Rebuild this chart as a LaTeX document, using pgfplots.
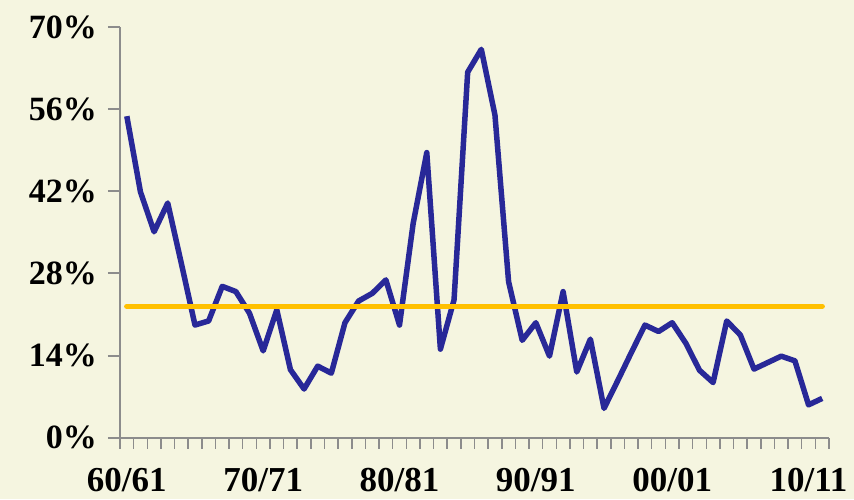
\documentclass[border=0pt]{standalone}
\usepackage{fontspec}
\setmainfont{Liberation Serif}
\usepackage{pgfplots}
\pgfplotsset{compat=1.18}
\definecolor{bg}{RGB}{245,245,224}
\definecolor{axgray}{RGB}{140,140,140}
\definecolor{lineblue}{RGB}{40,40,152}
\definecolor{avgorange}{RGB}{255,192,0}
\begin{document}
\begin{tikzpicture}
\path[fill=bg, use as bounding box] (-120pt,-61.3pt) rectangle (734pt,437.7pt);
\begin{axis}[
  at={(0,0)}, anchor=south west,
  scale only axis, width=709pt, height=410.7pt,
  xmin=-0.5, xmax=51.5, ymin=0, ymax=70,
  axis x line=bottom, axis y line=left,
  axis line style={axgray, line width=2pt, -},
  clip=false,
  tick align=outside,
  xtick={0,10,20,30,40,50},
  xticklabels={60/61,70/71,80/81,90/91,00/01,10/11},
  major x tick style={draw=none},
  minor xtick={-0.5,0.5,...,51.5},
  minor tick length=11pt,
  minor x tick style={axgray, line width=1.5pt},
  ytick={0,14,28,42,56,70},
  yticklabels={0\%,14\%,28\%,42\%,56\%,70\%},
  major tick length=12pt,
  y tick style={axgray, line width=2pt},
  x tick label style={font=\bfseries\fontsize{35}{40}\selectfont, inner sep=0pt, text depth=0pt, anchor=north, yshift=-18pt},
  y tick label style={font=\bfseries\fontsize{34}{40}\selectfont, inner sep=0pt, anchor=east, xshift=-11pt},
]
\addplot[lineblue, line width=5.5pt, line join=round] coordinates {
(0,54.8) (1,41.9) (2,35.1) (3,40.0) (4,29.7) (5,19.2) (6,19.9) (7,25.8) (8,24.9) (9,21.2)
(10,14.8) (11,21.8) (12,11.6) (13,8.3) (14,12.2) (15,11.0) (16,19.6) (17,23.3) (18,24.6) (19,26.9)
(20,19.2) (21,36.5) (22,48.6) (23,15.1) (24,23.5) (25,62.3) (26,66.2) (27,55.0) (28,26.6) (29,16.6)
(30,19.6) (31,13.9) (32,24.9) (33,11.2) (34,16.8) (35,5.0) (36,9.7) (37,14.5) (38,19.2) (39,18.1)
(40,19.6) (41,16.1) (42,11.5) (43,9.4) (44,19.9) (45,17.5) (46,11.7) (47,12.8) (48,13.9) (49,13.1)
(50,5.6) (51,6.7)
};
\addplot[avgorange, line width=5.5pt, line cap=round] coordinates {(0,22.4) (51,22.4)};
\end{axis}
\end{tikzpicture}
\end{document}
